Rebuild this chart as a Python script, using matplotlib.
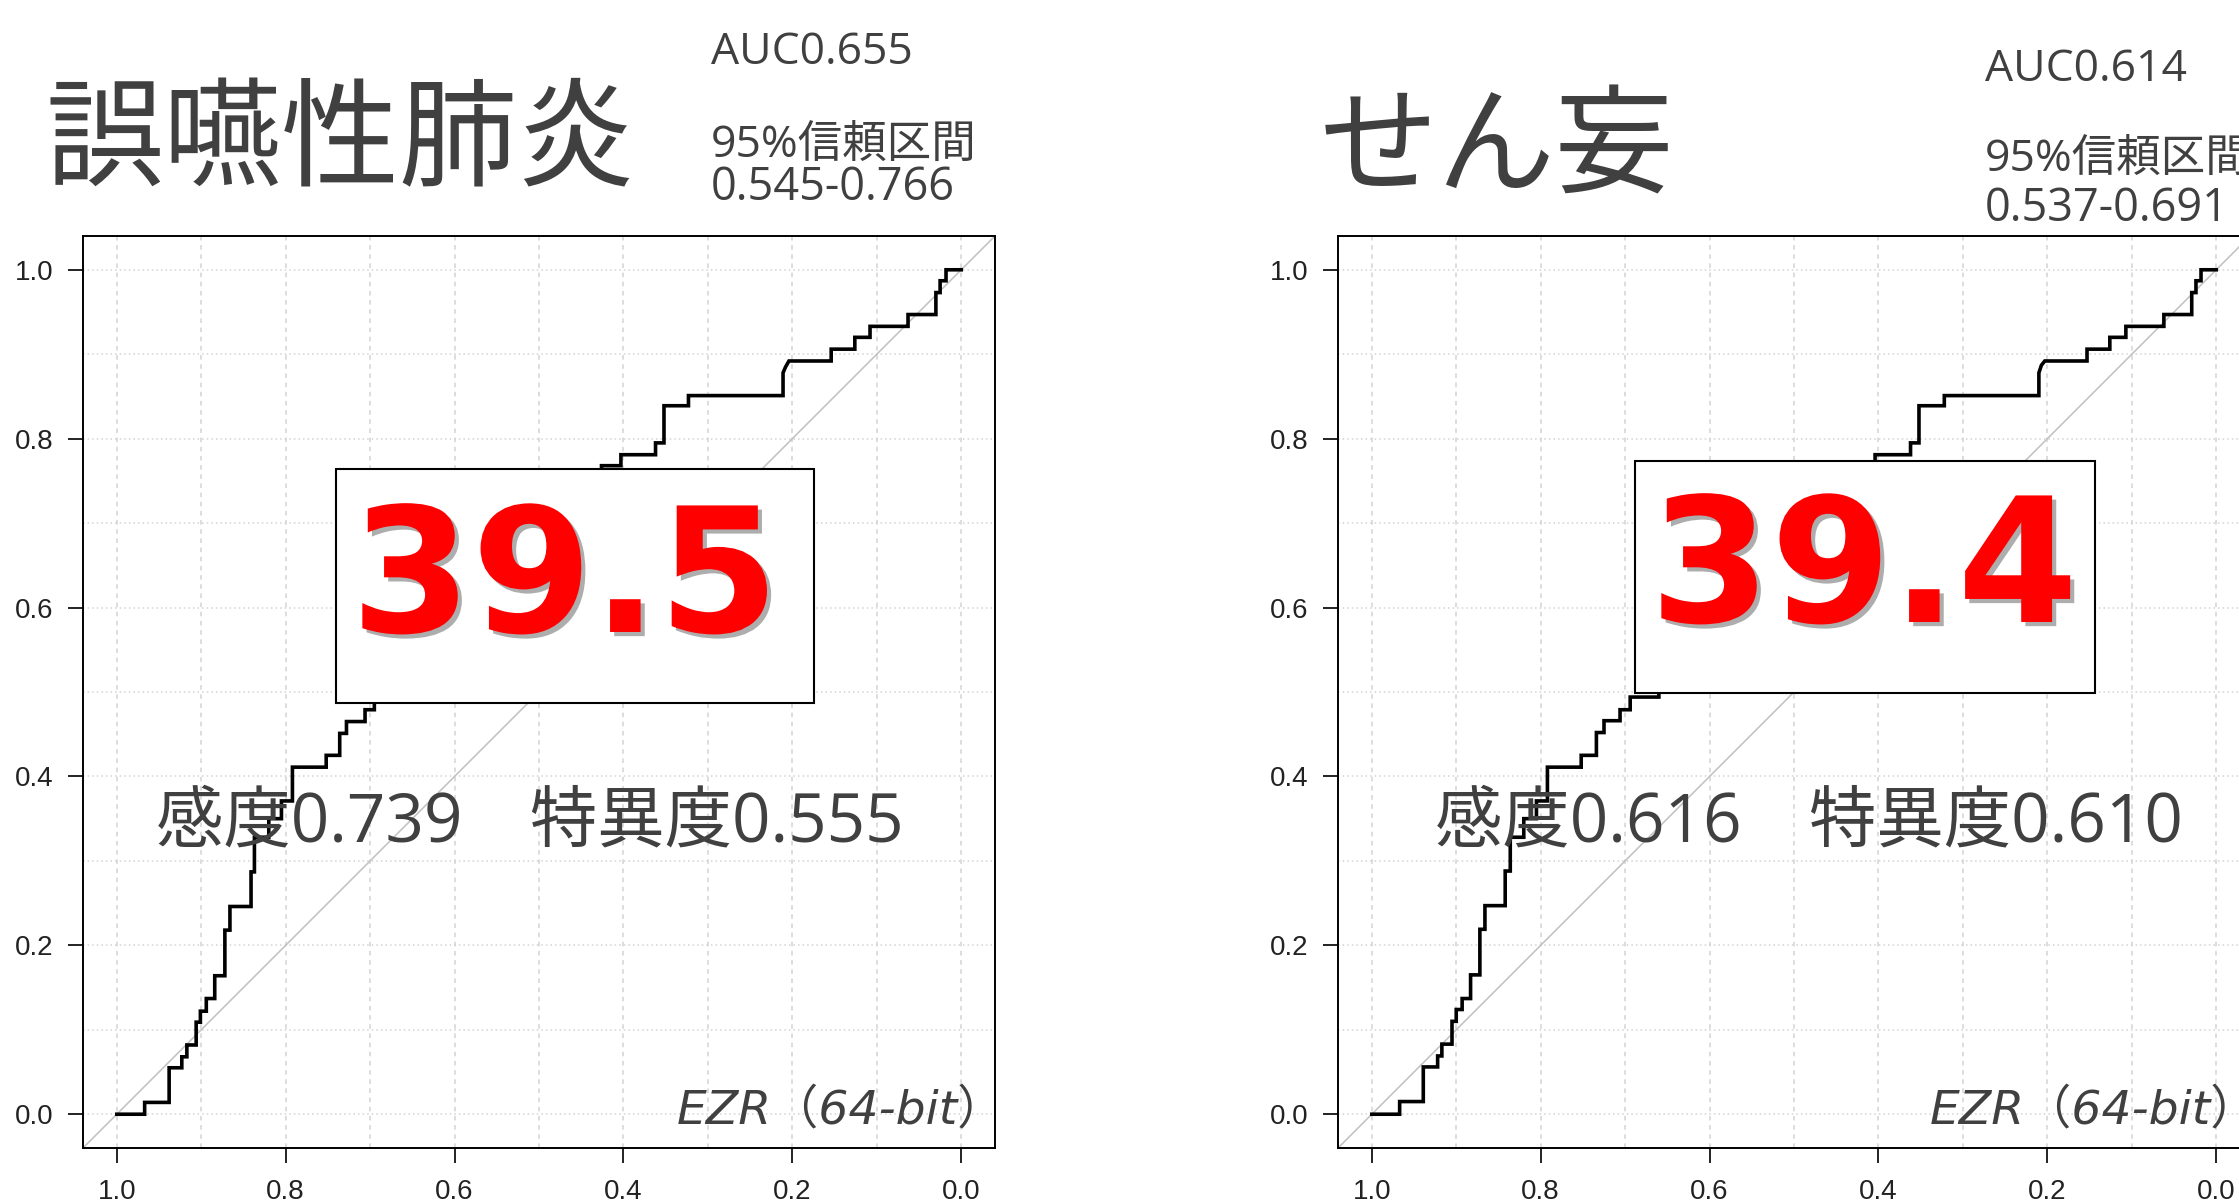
import matplotlib
matplotlib.use("Agg")
import matplotlib.pyplot as plt
from matplotlib.patches import Rectangle
import matplotlib.patheffects as pe

# ---------------- data ----------------
titles = ["誤嚥性肺炎", "せん妄"]
auc_labels = ["AUC0.655", "AUC0.614"]
ci_heads = ["95%信頼区間", "95%信頼区間"]
ci_labels = ["0.545-0.766", "0.537-0.691"]
big_values = ["39.5", "39.4"]
sens_spec_labels = ["感度0.739　特異度0.555", "感度0.616　特異度0.610"]
watermark = "EZR（64-bit）"

tick_values = [0.0, 0.2, 0.4, 0.6, 0.8, 1.0]
tick_labels = ["0.0", "0.2", "0.4", "0.6", "0.8", "1.0"]

# ROC step vertices (specificity, sensitivity)
spec_left = [1.0, 0.967, 0.967, 0.938, 0.938, 0.923, 0.923, 0.917, 0.917, 0.906, 0.906,
             0.901, 0.901, 0.894, 0.894, 0.884, 0.884, 0.872, 0.872, 0.866, 0.866,
             0.841, 0.841, 0.837, 0.837, 0.820, 0.820, 0.805, 0.805, 0.792, 0.792,
             0.752, 0.752, 0.736, 0.736, 0.728, 0.728, 0.706, 0.706, 0.695, 0.695,
             0.660, 0.660, 0.600, 0.600, 0.530, 0.530, 0.470, 0.470, 0.426, 0.426,
             0.403, 0.403, 0.362, 0.362, 0.352, 0.352, 0.323, 0.323, 0.211, 0.211,
             0.208, 0.204, 0.154, 0.154, 0.126, 0.126, 0.108, 0.108, 0.063, 0.063,
             0.030, 0.030, 0.025, 0.025, 0.018, 0.018, 0.0]
sens_left = [0.0, 0.0, 0.014, 0.014, 0.055, 0.055, 0.068, 0.068, 0.082, 0.082, 0.109,
             0.109, 0.122, 0.122, 0.137, 0.137, 0.164, 0.164, 0.218, 0.218, 0.246,
             0.246, 0.287, 0.287, 0.328, 0.328, 0.350, 0.350, 0.371, 0.371, 0.411,
             0.411, 0.425, 0.425, 0.451, 0.451, 0.465, 0.465, 0.479, 0.479, 0.500,
             0.500, 0.550, 0.550, 0.620, 0.620, 0.690, 0.690, 0.740, 0.740, 0.768,
             0.768, 0.781, 0.781, 0.795, 0.795, 0.839, 0.839, 0.851, 0.851, 0.878,
             0.885, 0.892, 0.892, 0.906, 0.906, 0.920, 0.920, 0.933, 0.933, 0.947,
             0.947, 0.973, 0.973, 0.987, 0.987, 1.0, 1.0]

spec_right = [1.0, 0.967, 0.967, 0.939, 0.939, 0.922, 0.922, 0.917, 0.917, 0.905, 0.905,
              0.900, 0.900, 0.893, 0.893, 0.883, 0.883, 0.872, 0.872, 0.866, 0.866,
              0.842, 0.842, 0.836, 0.836, 0.820, 0.820, 0.805, 0.805, 0.792, 0.792,
              0.752, 0.752, 0.734, 0.734, 0.725, 0.725, 0.706, 0.706, 0.694, 0.694,
              0.660, 0.660, 0.600, 0.600, 0.530, 0.530, 0.470, 0.470, 0.426, 0.426,
              0.404, 0.404, 0.362, 0.362, 0.352, 0.352, 0.322, 0.322, 0.210, 0.210,
              0.207, 0.203, 0.153, 0.153, 0.126, 0.126, 0.107, 0.107, 0.062, 0.062,
              0.029, 0.029, 0.024, 0.024, 0.018, 0.018, 0.0]
sens_right = [0.0, 0.0, 0.015, 0.015, 0.056, 0.056, 0.069, 0.069, 0.083, 0.083, 0.110,
              0.110, 0.124, 0.124, 0.137, 0.137, 0.165, 0.165, 0.219, 0.219, 0.247,
              0.247, 0.288, 0.288, 0.328, 0.328, 0.350, 0.350, 0.371, 0.371, 0.411,
              0.411, 0.425, 0.425, 0.452, 0.452, 0.466, 0.466, 0.479, 0.479, 0.494,
              0.494, 0.550, 0.550, 0.620, 0.620, 0.690, 0.690, 0.740, 0.740, 0.768,
              0.768, 0.781, 0.781, 0.795, 0.795, 0.839, 0.839, 0.851, 0.851, 0.878,
              0.887, 0.892, 0.892, 0.906, 0.906, 0.920, 0.920, 0.933, 0.933, 0.947,
              0.947, 0.973, 0.973, 0.987, 0.987, 1.0, 1.0]

specs = [spec_left, spec_right]
senss = [sens_left, sens_right]

# ---------------- layout ----------------
W, H = 2239, 1202
fig = plt.figure(figsize=(W / 100, H / 100), dpi=100)
fig.patch.set_facecolor("white")

def fx(px):
    return px / W

def fy(py):
    return 1 - py / H

TXT = "#404040"
JP = ["Open Sans", "Noto Sans CJK JP", "DejaVu Sans"]

axes_left_px = [83, 1338]
axes_top_px, axes_bot_px = 236, 1148
axes_w_px = 912

title_pos = [(45, 177), (1320, 184)]
auc_pos = [(711, 64), (1985, 81)]
cihead_pos = [(711, 157), (1985, 171)]
ci_pos = [(711, 200), (1985, 221)]
box_px = [(336, 469, 814, 703), (1635, 461, 2095, 693)]
big_pos = [(565, 632), (1864, 622)]
ss_pos = [(156, 841), (1435, 841)]
ezr_right_px = [1005, 2258]

for i in range(2):
    ax = fig.add_axes([fx(axes_left_px[i]), fy(axes_bot_px),
                       axes_w_px / W, (axes_bot_px - axes_top_px) / H])
    ax.set_xlim(1.04, -0.04)
    ax.set_ylim(-0.04, 1.04)
    # grid
    for g in range(11):
        v = g / 10
        ax.axvline(v, color="#d3d3d3", lw=1.1, ls=(0, (3, 3)), zorder=0)
        ax.axhline(v, color="#d3d3d3", lw=1.1, ls=(0, (1, 2)), zorder=0)
    ax.axline((1, 0), (0, 1), color="#c0c0c0", lw=1.1, zorder=1)
    ax.plot(specs[i], senss[i], color="black", lw=2.6, zorder=3,
            solid_joinstyle="miter")
    ax.set_xticks(tick_values)
    ax.set_xticklabels(tick_labels)
    ax.set_yticks(tick_values)
    ax.set_yticklabels(tick_labels)
    ax.tick_params(axis="both", direction="out", length=11, width=1.4,
                   labelsize=20, colors="#222222")
    ax.tick_params(axis="y", pad=10)
    ax.tick_params(axis="x", pad=11)
    for lab in ax.get_xticklabels() + ax.get_yticklabels():
        lab.set_family("Liberation Sans")
    for s in ax.spines.values():
        s.set_linewidth(1.4)
        s.set_color("black")

    # headings
    fig.text(fx(title_pos[i][0]), fy(title_pos[i][1]), titles[i],
             family=["Noto Sans CJK JP", "DejaVu Sans"],
             fontsize=85, color=TXT, ha="left", va="baseline")
    fig.text(fx(auc_pos[i][0]), fy(auc_pos[i][1]), auc_labels[i], family=JP,
             fontsize=32, color=TXT, ha="left", va="baseline")
    fig.text(fx(cihead_pos[i][0]), fy(cihead_pos[i][1]), ci_heads[i], family=JP,
             fontsize=32, color=TXT, ha="left", va="baseline")
    fig.text(fx(ci_pos[i][0]), fy(ci_pos[i][1]), ci_labels[i], family=JP,
             fontsize=32.5, color=TXT, ha="left", va="baseline")

    # white box with big red number
    x0, y0, x1, y1 = box_px[i]
    fig.add_artist(Rectangle((fx(x0), fy(y1)), (x1 - x0) / W, (y1 - y0) / H,
                             transform=fig.transFigure, facecolor="white",
                             edgecolor="black", lw=1.5, zorder=5))
    t = fig.text(fx(big_pos[i][0]), fy(big_pos[i][1]), big_values[i],
                 family="DejaVu Sans", weight="bold", fontsize=125, color="#ff0000",
                 ha="center", va="baseline", zorder=6)
    t.set_path_effects([pe.withSimplePatchShadow(offset=(3, -3),
                                                 shadow_rgbFace="#777777", alpha=0.6)])

    fig.text(fx(ss_pos[i][0]), fy(ss_pos[i][1]), sens_spec_labels[i], family=JP,
             fontsize=48.5, color=TXT, ha="left", va="baseline", zorder=7)

    fig.text(fx(ezr_right_px[i]), fy(1123), watermark,
             family=["DejaVu Sans", "Noto Sans CJK JP"], style="italic",
             fontsize=34, color=TXT, ha="right", va="baseline", zorder=7)

fig.savefig("out.png", dpi=100, facecolor="white")
